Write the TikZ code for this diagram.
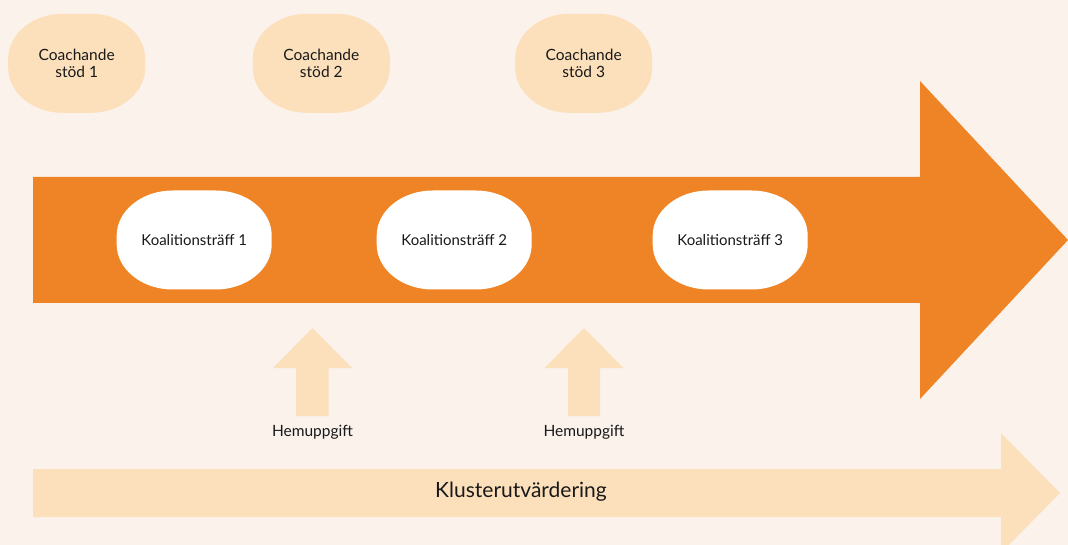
\documentclass[tikz,border=0pt]{standalone}
\usepackage{fontspec}
\setmainfont{Lato}
\definecolor{bgc}{RGB}{251,242,236}
\definecolor{orng}{RGB}{239,132,38}
\definecolor{peach}{RGB}{252,224,187}
\definecolor{txt}{RGB}{25,25,25}
% pill outline: #1 left, #2 top, #3 right, #4 bottom, #5 corner x radius, #6 corner y radius, #7 colour
\newcommand\pillfill[7]{%
  \fill[#7] ({#1+#5},{#2}) -- ({#3-#5},{#2})
    .. controls ({#3-0.45*#5},{#2}) and ({#3},{#2+0.45*#6}) .. ({#3},{#2+#6})
    -- ({#3},{#4-#6})
    .. controls ({#3},{#4-0.45*#6}) and ({#3-0.45*#5},{#4}) .. ({#3-#5},{#4})
    -- ({#1+#5},{#4})
    .. controls ({#1+0.45*#5},{#4}) and ({#1},{#4-0.45*#6}) .. ({#1},{#4-#6})
    -- ({#1},{#2+#6})
    .. controls ({#1},{#2+0.45*#6}) and ({#1+0.45*#5},{#2}) .. ({#1+#5},{#2}) -- cycle;}
\begin{document}
\begin{tikzpicture}[x=1pt,y=-1pt,
  pilltext/.style={minimum width=137pt, minimum height=99pt, inner sep=0pt, align=center, font=\fontsize{15.5}{17.5}\selectfont, text=txt},
  meettext/.style={minimum width=155pt, minimum height=99pt, inner sep=0pt, align=center, font=\fontsize{15}{17.5}\selectfont, text=txt},
  smalllabel/.style={font=\fontsize{15.5}{17}\selectfont, text=txt, inner sep=0pt},
  biglabel/.style={font=\fontsize{21}{24}\selectfont, text=txt, inner sep=0pt}]
\useasboundingbox (0,0) rectangle (1068,545);
\fill[bgc] (0,0) rectangle (1068,545);
% main orange arrow
\fill[orng] (33,177) -- (920,177) -- (920,81) -- (1068,240) -- (920,399) -- (920,303) -- (33,303) -- cycle;
% bottom cluster arrow
\fill[peach] (33,469) -- (1001,469) -- (1001,433) -- (1060,493) -- (1001,553) -- (1001,517) -- (33,517) -- cycle;
% homework up arrows
\fill[peach] (296,416) -- (296,368) -- (273,368) -- (312.5,328) -- (352,368) -- (328.5,368) -- (328.5,416) -- cycle;
\fill[peach] (568,416) -- (568,368) -- (544.5,368) -- (584,328) -- (623.5,368) -- (600,368) -- (600,416) -- cycle;
% pill backgrounds
\pillfill{8.2}{13.8}{145.2}{112.8}{54}{45}{peach}
\pillfill{252.8}{13.8}{389.8}{112.8}{54}{45}{peach}
\pillfill{515.2}{13.8}{652.2}{112.8}{54}{45}{peach}
\pillfill{116.7}{190.5}{271.7}{289.5}{56}{45}{white}
\pillfill{376.7}{190.5}{531.7}{289.5}{56}{45}{white}
\pillfill{652.7}{190.5}{807.7}{289.5}{56}{45}{white}
% coaching pills
\node[pilltext] (c1) at (76.7,63.3) {Coachande\\stöd 1};
\node[pilltext] (c2) at (321.3,63.3) {Coachande\\stöd 2};
\node[pilltext] (c3) at (583.7,63.3) {Coachande\\stöd 3};
% meeting pills
\node[meettext] (k1) at (194.2,240) {Koalitionsträff 1};
\node[meettext] (k2) at (454.2,240) {Koalitionsträff 2};
\node[meettext] (k3) at (730.2,240) {Koalitionsträff 3};
% labels
\node[smalllabel] (h1) at (312.5,432) {Hemuppgift};
\node[smalllabel] (h2) at (584,432) {Hemuppgift};
\node[biglabel] (kl) at (521,492) {Klusterutvärdering};
\end{tikzpicture}
\end{document}
